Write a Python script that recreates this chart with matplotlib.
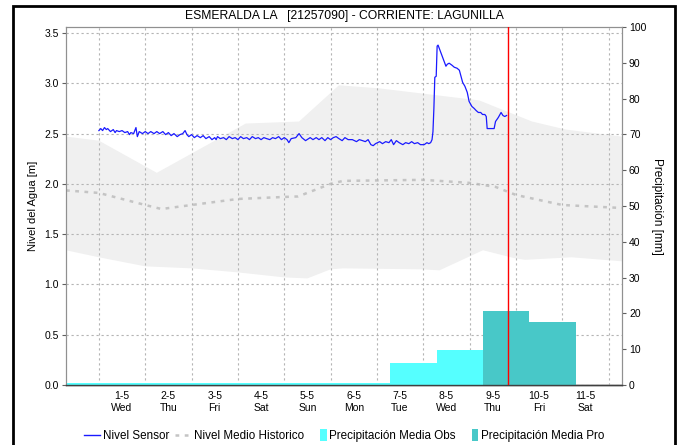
import matplotlib
matplotlib.use("Agg")
import matplotlib.pyplot as plt
from matplotlib.patches import Rectangle, Patch
from matplotlib.lines import Line2D
from matplotlib.legend_handler import HandlerPatch
import numpy as np

plt.rcParams['font.family'] = ['Liberation Sans', 'DejaVu Sans']

# ---------------- data (x in days since 1-May 00:00) ----------------
title = "ESMERALDA LA   [21257090] - CORRIENTE: LAGUNILLA"
day_labels = ["1-5\nWed", "2-5\nThu", "3-5\nFri", "4-5\nSat", "5-5\nSun", "6-5\nMon",
              "7-5\nTue", "8-5\nWed", "9-5\nThu", "10-5\nFri", "11-5\nSat"]

sensor_t = [0.00, 0.04, 0.08, 0.12, 0.16, 0.19, 0.25, 0.31, 0.35, 0.38, 0.44, 0.50, 0.56, 0.62,
            0.66, 0.69, 0.75, 0.80, 0.83, 0.87, 0.94, 1.00, 1.06, 1.12, 1.19, 1.25, 1.31, 1.38,
            1.44, 1.50, 1.56, 1.62, 1.69, 1.75, 1.81, 1.86, 1.90, 1.94, 2.00, 2.06, 2.12, 2.19,
            2.25, 2.31, 2.38, 2.44, 2.50, 2.53, 2.56, 2.62, 2.69, 2.75, 2.81, 2.88, 2.94, 3.00,
            3.06, 3.12, 3.19, 3.25, 3.31, 3.38, 3.44, 3.50, 3.56, 3.62, 3.69, 3.75, 3.81, 3.88,
            3.94, 4.00, 4.06, 4.10, 4.15, 4.25, 4.32, 4.38, 4.46, 4.56, 4.62, 4.69, 4.75, 4.81,
            4.88, 4.94, 5.00, 5.06, 5.12, 5.18, 5.25, 5.31, 5.38, 5.47, 5.56, 5.62, 5.69, 5.75,
            5.81, 5.87, 5.92, 5.97, 6.06, 6.12, 6.19, 6.26, 6.31, 6.36, 6.42, 6.48, 6.56, 6.62,
            6.69, 6.75, 6.81, 6.88, 6.94, 7.02, 7.08, 7.12, 7.16, 7.19, 7.21, 7.23, 7.25, 7.28,
            7.30, 7.32, 7.36, 7.40, 7.45, 7.49, 7.52, 7.56, 7.62, 7.67, 7.73, 7.78, 7.82, 7.85,
            7.90, 7.95, 7.99, 8.05, 8.10, 8.14, 8.19, 8.24, 8.28, 8.33, 8.36, 8.38, 8.47, 8.53,
            8.56, 8.62, 8.68, 8.72, 8.76, 8.80]
sensor_v = [2.53, 2.55, 2.53, 2.56, 2.54, 2.55, 2.52, 2.54, 2.51, 2.53, 2.52, 2.53, 2.51, 2.52,
            2.49, 2.51, 2.50, 2.56, 2.47, 2.52, 2.50, 2.52, 2.50, 2.52, 2.50, 2.52, 2.50, 2.52,
            2.49, 2.51, 2.48, 2.50, 2.47, 2.49, 2.50, 2.53, 2.49, 2.47, 2.49, 2.46, 2.48, 2.46,
            2.48, 2.45, 2.47, 2.44, 2.46, 2.44, 2.47, 2.45, 2.46, 2.44, 2.47, 2.45, 2.46, 2.44,
            2.47, 2.45, 2.46, 2.44, 2.47, 2.45, 2.46, 2.44, 2.46, 2.45, 2.44, 2.46, 2.45, 2.47,
            2.44, 2.46, 2.44, 2.41, 2.45, 2.46, 2.50, 2.46, 2.43, 2.46, 2.44, 2.46, 2.44, 2.46,
            2.43, 2.46, 2.44, 2.46, 2.47, 2.45, 2.43, 2.46, 2.44, 2.44, 2.42, 2.44, 2.43, 2.42,
            2.44, 2.39, 2.38, 2.40, 2.42, 2.40, 2.42, 2.41, 2.44, 2.39, 2.43, 2.41, 2.39, 2.41,
            2.40, 2.42, 2.40, 2.41, 2.39, 2.39, 2.41, 2.40, 2.41, 2.44, 2.52, 2.75, 3.06, 3.07,
            3.37, 3.38, 3.33, 3.28, 3.22, 3.17, 3.19, 3.20, 3.18, 3.16, 3.15, 3.13, 3.06, 3.01,
            2.97, 2.91, 2.82, 2.77, 2.75, 2.73, 2.71, 2.71, 2.69, 2.69, 2.67, 2.55, 2.55, 2.55,
            2.62, 2.66, 2.71, 2.68, 2.67, 2.68]

# historic range (upper / lower envelopes) and mean level
hist_up_t = [-0.71, 0.00, 1.25, 3.17, 4.32, 5.18, 6.05, 8.21, 8.64, 9.35, 10.08, 11.29]
hist_up_v = [2.47, 2.43, 2.11, 2.60, 2.62, 2.98, 2.95, 2.83, 2.75, 2.62, 2.54, 2.47]
hist_lo_t = [-0.71, 0.00, 1.00, 2.00, 3.00, 4.00, 4.50, 5.00, 5.27, 7.00, 7.35, 8.29, 8.98,
             9.20, 10.20, 11.29]
hist_lo_v = [1.34, 1.27, 1.18, 1.16, 1.12, 1.07, 1.06, 1.15, 1.16, 1.15, 1.14, 1.34, 1.26,
             1.245, 1.27, 1.23]
mean_t = [-0.71, 0.00, 1.00, 1.35, 2.00, 3.00, 4.00, 4.30, 5.00, 5.27, 7.00, 8.00, 8.56, 9.00,
          10.00, 11.29]
mean_v = [1.935, 1.91, 1.79, 1.75, 1.79, 1.85, 1.87, 1.875, 2.00, 2.03, 2.04, 2.01, 1.97, 1.89,
          1.79, 1.76]

# daily precipitation (7:00 to 7:00)
obs_start = [-0.71, 0.29, 1.29, 2.29, 3.29, 4.29, 5.29, 6.29, 7.29]
obs_mm = [0.6, 0.6, 0.6, 0.6, 0.6, 0.6, 0.6, 6.2, 9.9]
pro_start = [8.29, 9.29]
pro_mm = [20.6, 17.6]

now_t = 8.82
xlim = (-0.71, 11.29)

# ---------------- figure ----------------
fig = plt.figure(figsize=(6.82, 4.45), dpi=100)
ax = fig.add_axes([66/682, 1-385/445, (622-66)/682, (385-27)/445])
ax2 = ax.twinx()

ax.fill(np.concatenate([hist_up_t, hist_lo_t[::-1]]),
        np.concatenate([hist_up_v, hist_lo_v[::-1]]),
        color='#f0f0f0', lw=0, zorder=0)
ax.plot(mean_t, mean_v, color='#c4c4c4', lw=1.8, ls=(0, (1.5, 2.2)), zorder=2)
ax.plot(sensor_t, sensor_v, color='#1a1aff', lw=0.9, zorder=3)

ax2.bar(obs_start, obs_mm, width=1.0, align='edge', color='#55ffff', lw=0, zorder=2)
ax2.bar(pro_start, pro_mm, width=1.0, align='edge', color='#48c8c8', lw=0, zorder=2)
ax2.axvline(now_t, color='#ff0000', lw=1.0, zorder=3)

ax.set_xlim(*xlim)
ax.set_ylim(0, 3.56)
ax2.set_ylim(0, 100)

ax.set_yticks(np.arange(0, 3.51, 0.5))
ax.set_yticklabels([f"{v:.1f}" for v in np.arange(0, 3.51, 0.5)])
ax2.set_yticks(np.arange(0, 101, 10))

ax.set_xticks(np.arange(0, 12))
ax.set_xticklabels([])
ax.set_xticks(np.arange(0, 11) + 0.5, minor=True)
ax.set_xticklabels(day_labels, minor=True, fontsize=7.5, linespacing=1.25)
ax.tick_params(axis='x', which='both', length=0, pad=4)
ax.tick_params(axis='y', length=3, width=0.8, color='#606060', labelsize=7.5, pad=2)
ax2.tick_params(axis='y', length=3, width=0.8, color='#606060', labelsize=7.5, pad=2)

ax.grid(True, which='major', color='#b4b4b4', ls=(0, (2, 2.5)), lw=0.8)
ax.set_axisbelow(False)
for g in ax.get_xgridlines() + ax.get_ygridlines():
    g.set_zorder(1)

for a in (ax, ax2):
    for s in ('left', 'right', 'top'):
        a.spines[s].set_color('#909090')
        a.spines[s].set_linewidth(0.8)
    a.spines['bottom'].set_color('#404040')
    a.spines['bottom'].set_linestyle((0, (1, 1)))
    a.spines['bottom'].set_linewidth(1.0)

ax.set_ylabel("Nivel del Agua [m]", fontsize=8, labelpad=5)
ax2.set_ylabel("Precipitación [mm]", fontsize=8.5, rotation=270, labelpad=12)
fig.text(344/682, 1-16/445, title, ha='center', va='center', fontsize=8.7)


def narrow_patch(legend, orig_handle, xdescent, ydescent, width, height, fontsize):
    w, h = 4.6, 9.0
    return Rectangle((-xdescent + width - w, -ydescent + (height - h) / 2), w, h)


handles = [Line2D([], [], color='#1a1aff', lw=1.0),
           Line2D([], [], color='#c4c4c4', lw=1.8, ls=(0, (1.5, 2.2))),
           Patch(facecolor='#55ffff', lw=0),
           Patch(facecolor='#48c8c8', lw=0)]
labels = ["Nivel Sensor", "Nivel Medio Historico", "Precipitación Media Obs", "Precipitación Media Pro"]
fig.legend(handles, labels, loc='center', bbox_to_anchor=(344/682, 1-436/445), ncol=4,
           frameon=False, fontsize=8.4, handlelength=1.4, handleheight=1.0, handletextpad=0.25,
           columnspacing=0.5, borderpad=0,
           handler_map={Patch: HandlerPatch(patch_func=narrow_patch)})

fig.patches.append(Rectangle((13/682, -0.05), (675-13)/682, 1-6/445 + 0.05,
                             transform=fig.transFigure, fill=False, ec='black', lw=2))

fig.savefig("out.png", dpi=100)
